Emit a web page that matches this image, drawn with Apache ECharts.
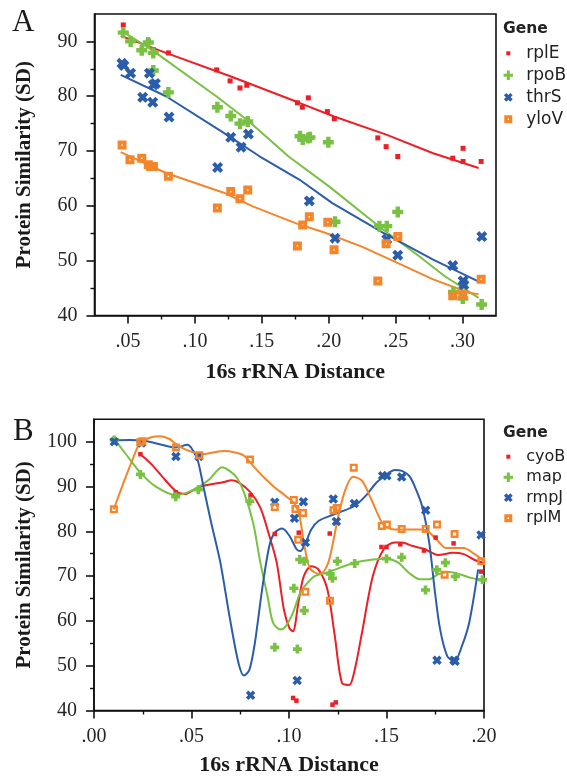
<!DOCTYPE html>
<html>
<head>
<meta charset="utf-8">
<script src="https://cdn.jsdelivr.net/npm/echarts@6/dist/echarts.min.js"></script>
<style>html,body{margin:0;padding:0;background:#fff}#c{width:567px;height:777px}</style>
</head>
<body>
<div id="c"></div>
<script>
// ---------- Panel A data ----------
const genesA = ['rplE', 'rpoB', 'thrS', 'yloV'];
const rplE = [[0.0465,93.0],[0.0652,90.0],[0.0689,88.5],[0.0802,87.9],[0.1163,84.8],[0.1263,82.8],[0.1337,81.5],[0.1388,82.0],[0.1766,78.8],[0.1803,78.0],[0.1848,79.7],[0.199,77.2],[0.2042,75.9],[0.2367,72.4],[0.2429,70.8],[0.2516,69.0],[0.2927,68.7],[0.3004,70.5],[0.3004,68.1],[0.3139,68.1]];
const rplEFit = [[0.0446,91.0],[0.0784,87.9],[0.127,83.6],[0.178,78.8],[0.204,76.3],[0.243,73.0],[0.278,69.6],[0.312,66.9]];
const rpoB = [[0.0465,91.6],[0.052,90.0],[0.0603,88.4],[0.0652,89.8],[0.0689,87.9],[0.0689,84.7],[0.0802,80.7],[0.1168,78.0],[0.1268,76.4],[0.1337,75.0],[0.1395,75.4],[0.1786,72.7],[0.1806,72.1],[0.1848,72.4],[0.186,72.5],[0.1997,71.6],[0.2047,57.1],[0.2379,56.3],[0.2434,56.3],[0.2516,58.9],[0.2932,44.3],[0.3002,43.1],[0.3143,42.0]];
const rpoBFit = [[0.0446,92.0],[0.0676,88.5],[0.116,80.0],[0.1405,75.4],[0.170,69.0],[0.200,63.6],[0.2405,55.7],[0.2676,50.8],[0.2865,47.2],[0.312,43.2]];
const thrS = [[0.0455,86.0],[0.047,85.6],[0.052,84.2],[0.061,79.8],[0.066,84.2],[0.069,82.1],[0.0705,82.3],[0.0685,78.9],[0.0807,76.2],[0.117,67.0],[0.1268,72.5],[0.1345,70.7],[0.14,73.1],[0.1855,60.9],[0.2047,54.1],[0.2434,53.9],[0.2516,51.0],[0.2927,49.1],[0.3004,46.3],[0.301,45.6],[0.3144,54.4]];
const thrSFit = [[0.0446,83.9],[0.0784,80.0],[0.1216,73.3],[0.1486,69.0],[0.178,64.8],[0.2027,60.5],[0.2405,55.1],[0.278,50.2],[0.311,46.3]];
const yloV = [[0.0456,71.1],[0.0515,68.4],[0.0603,68.7],[0.0652,67.5],[0.067,67.2],[0.069,67.2],[0.0802,65.4],[0.1168,59.6],[0.1268,62.6],[0.1337,61.3],[0.1395,62.9],[0.1766,52.7],[0.1806,56.5],[0.1855,58.0],[0.1993,57.0],[0.204,52.0],[0.2367,46.3],[0.2429,53.1],[0.2516,54.4],[0.2927,43.6],[0.3002,43.8],[0.3139,46.6]];
const yloVFit = [[0.0446,69.8],[0.0784,66.0],[0.1216,62.4],[0.1432,59.9],[0.1757,56.8],[0.1973,55.1],[0.2243,52.6],[0.2514,49.6],[0.278,46.6],[0.3054,44.1],[0.312,43.9]];
const xTicksA = [0.05, 0.10, 0.15, 0.20, 0.25, 0.30];
const xMinorA = [0.075, 0.125, 0.175, 0.225, 0.275];
const yTicksA = [40, 50, 60, 70, 80, 90];
const yMinorA = [45, 55, 65, 75, 85];

// ---------- Panel B data ----------
const genesB = ['cyoB', 'map', 'rmpJ', 'rplM'];
const cyoB = [[0.0238,97.2],[0.0419,88.7],[0.0803,88.0],[0.0927,79.4],[0.105,79.7],[0.1021,42.8],[0.1038,42.2],[0.1209,79.5],[0.1223,41.3],[0.124,41.8],[0.1474,76.5],[0.15,76.5],[0.1571,77.1],[0.1692,75.7],[0.1752,78.6],[0.1844,77.3],[0.1986,71.0]];
const cyoBFit = [[0.0238,97.2],[0.0294,95.0],[0.035,92.2],[0.0419,89.0],[0.0462,88.3],[0.0518,89.4],[0.0555,90.1],[0.0667,91.0],[0.0704,91.4],[0.0741,90.9],[0.0803,88.7],[0.0853,85.3],[0.0899,79.0],[0.0937,73.0],[0.0974,62.5],[0.1002,58.4],[0.102,57.7],[0.1048,64.0],[0.1076,70.0],[0.1114,72.2],[0.1151,71.5],[0.1197,67.0],[0.1235,56.6],[0.1272,46.1],[0.1309,45.7],[0.1337,49.1],[0.1374,57.3],[0.143,70.0],[0.1486,76.0],[0.1542,77.5],[0.1579,77.5],[0.1635,76.7],[0.1691,76.1],[0.1765,74.7],[0.184,75.2],[0.1896,74.9],[0.1952,73.6],[0.1994,73.0]];
const mapG = [[0.0104,100.4],[0.0238,92.7],[0.0419,87.7],[0.0535,89.3],[0.0799,86.7],[0.0927,54.1],[0.1043,53.7],[0.1025,67.3],[0.1055,73.7],[0.1078,73.3],[0.1078,62.3],[0.1211,70.5],[0.1223,69.5],[0.1248,73.3],[0.1337,72.8],[0.15,73.9],[0.1578,74.2],[0.17,66.9],[0.1758,71.4],[0.1802,73.0],[0.1853,69.9],[0.1992,69.2]];
const mapFit = [[0.0104,100.6],[0.0164,97.2],[0.0238,93.1],[0.0313,90.1],[0.0419,88.1],[0.048,88.7],[0.0533,89.8],[0.0592,91.6],[0.0657,94.3],[0.0695,93.5],[0.0732,92.0],[0.0769,88.7],[0.0816,81.9],[0.0853,73.0],[0.089,65.5],[0.0918,59.6],[0.0955,58.1],[0.0983,58.8],[0.102,61.8],[0.1058,66.3],[0.1095,68.5],[0.1132,70.0],[0.1188,70.7],[0.1263,71.9],[0.1337,73.0],[0.143,73.7],[0.1501,73.9],[0.156,73.0],[0.1616,70.7],[0.1672,69.3],[0.1719,69.3],[0.1765,70.4],[0.1821,70.9],[0.1877,70.4],[0.1933,69.6],[0.1998,69.1]];
const rmpJ = [[0.0104,100.0],[0.0244,99.7],[0.042,96.7],[0.0538,96.7],[0.0803,43.4],[0.0927,86.5],[0.1028,82.9],[0.1042,46.7],[0.1074,86.6],[0.1084,77.5],[0.1227,87.2],[0.1243,82.2],[0.1335,86.2],[0.148,92.4],[0.1502,92.4],[0.1578,92.1],[0.1701,84.7],[0.1759,51.2],[0.1846,51.2],[0.1852,51.0],[0.1985,79.2]];
const rmpJFit = [[0.0104,100.3],[0.0182,100.4],[0.0257,100.2],[0.0331,99.5],[0.0419,98.7],[0.048,99.3],[0.0508,98.0],[0.0533,95.7],[0.0564,89.4],[0.0601,81.9],[0.0648,73.0],[0.0695,61.0],[0.0741,50.6],[0.0769,47.8],[0.0797,49.1],[0.0825,55.1],[0.0862,67.0],[0.0899,76.7],[0.0927,79.7],[0.0965,80.6],[0.1002,79.0],[0.1039,76.0],[0.1058,75.6],[0.1086,77.5],[0.1114,80.4],[0.1151,82.3],[0.1207,83.4],[0.1263,84.3],[0.1337,85.7],[0.1393,87.9],[0.1449,90.9],[0.1505,92.8],[0.1542,93.7],[0.1579,93.5],[0.1616,92.4],[0.1644,90.1],[0.1682,85.7],[0.1719,77.5],[0.1747,67.0],[0.1775,58.1],[0.1812,52.1],[0.1849,51.0],[0.1886,54.3],[0.1924,59.6],[0.197,71.5]];
const rplM = [[0.0102,84.9],[0.0237,99.9],[0.0248,100.1],[0.042,98.7],[0.054,97.0],[0.08,96.0],[0.0927,85.4],[0.1025,87.0],[0.1033,85.0],[0.1072,84.1],[0.1047,78.1],[0.1084,66.5],[0.121,64.5],[0.1228,84.7],[0.1245,85.2],[0.1332,94.2],[0.1476,81.2],[0.1502,81.5],[0.1578,80.5],[0.1701,80.5],[0.1759,81.5],[0.1798,70.3],[0.1849,79.4],[0.1986,73.3]];
const rplMFit = [[0.0101,84.9],[0.0145,90.1],[0.0192,95.4],[0.0238,99.85],[0.0294,101.0],[0.0341,101.2],[0.0387,100.6],[0.0419,99.5],[0.0462,98.4],[0.0518,97.5],[0.0555,97.2],[0.0611,97.6],[0.0667,97.9],[0.0723,97.6],[0.0769,96.9],[0.0816,94.6],[0.0872,92.0],[0.0927,89.8],[0.0983,87.9],[0.103,86.0],[0.1054,83.4],[0.1076,77.5],[0.1104,72.0],[0.1132,70.8],[0.116,70.5],[0.1197,72.5],[0.1222,76.7],[0.1253,83.4],[0.129,89.4],[0.1328,92.2],[0.1374,91.3],[0.1421,87.2],[0.1477,81.9],[0.1505,80.8],[0.1542,80.4],[0.1616,80.4],[0.1672,80.4],[0.1709,80.1],[0.1765,77.8],[0.1803,76.3],[0.1858,76.3],[0.1896,76.3],[0.1952,74.9],[0.1998,73.4]];
const xTicksB = [0, 0.05, 0.10, 0.15, 0.20];
const xMinorB = [0.025, 0.075, 0.125, 0.175];
const yTicksB = [40, 50, 60, 70, 80, 90, 100];
const yMinorB = [45, 55, 65, 75, 85, 95];

// ---------- styles ----------
const RED = '#ec1f26', GREEN = '#79c143', BLUE = '#2b5dab', ORANGE = '#f5852a';
const PLUS = 'path://M3,0 H7 V3 H10 V7 H7 V10 H3 V7 H0 V3 H3 Z';
const CROSS = 'path://M0,2.6 L2.6,0 L5,2.4 L7.4,0 L10,2.6 L7.6,5 L10,7.4 L7.4,10 L5,7.6 L2.6,10 L0,7.4 L2.4,5 Z';
const SQDOT = 'path://M0,0 H10 V10 H0 Z M4.2,4.2 V5.8 H5.8 V4.2 Z';
const SQHOLE = 'path://M0,0 H10 V10 H0 Z M3,3 V7 H7 V3 Z';
// legend icons: 18x10 box, shape centred at x=5
const L_SMALL = 'path://M0,0 M18,10 M3,3 H7 V7 H3 Z';
const L_PLUS = 'path://M0,0 M18,10 M3.5,0.3 H6.5 V3.5 H9.7 V6.5 H6.5 V9.7 H3.5 V6.5 H0.3 V3.5 H3.5 Z';
const L_CROSS = 'path://M0,0 M18,10 M0.6,3 L3,0.6 L5,2.6 L7,0.6 L9.4,3 L7.4,5 L9.4,7 L7,9.4 L5,7.4 L3,9.4 L0.6,7 L2.6,5 Z';
const L_SQDOT = 'path://M0,0 M18,10 M1,1 H9 V9 H1 Z M4.3,4.3 V5.7 H5.7 V4.3 Z';

const SERIF = 'Liberation Serif';
const SANS = 'DejaVu Sans';
const fmtX = v => v.toFixed(2).replace(/^0/, '');

function mainAxis(type, gridIndex, min, max, ticks, name, nameGap) {
  return {
    type: 'value', gridIndex, min, max,
    position: type === 'x' ? 'bottom' : 'left',
    name, nameLocation: 'middle', nameGap,
    nameRotate: type === 'x' ? 0 : 90,
    nameTextStyle: {fontFamily: SERIF, fontWeight: 'bold', fontSize: type === 'x' ? 22 : 21, color: '#1a1a1a'},
    axisLine: {show: true, onZero: false, lineStyle: {color: '#111', width: 1.6}},
    axisTick: {show: true, inside: false, length: 8, customValues: ticks, lineStyle: {color: '#111', width: 1.6}},
    axisLabel: {show: true, customValues: ticks, margin: type === 'x' ? 16 : 17,
      fontFamily: SERIF, fontSize: 20, color: '#262626',
      formatter: type === 'x' ? fmtX : (v => String(v))},
    splitLine: {show: false}, minorTick: {show: false}, minorSplitLine: {show: false}
  };
}
function minorAxis(type, gridIndex, min, max, ticks) {
  return {
    type: 'value', gridIndex, min, max,
    position: type === 'x' ? 'bottom' : 'left',
    axisLine: {show: false, onZero: false},
    axisTick: {show: true, inside: false, length: 4, customValues: ticks, lineStyle: {color: '#111', width: 1.4}},
    axisLabel: {show: false},
    splitLine: {show: false}
  };
}

function scatter(name, data, ax, symbol, size, color) {
  return {type: 'scatter', name, data, xAxisIndex: ax, yAxisIndex: ax, symbol, symbolSize: size,
    itemStyle: {color, opacity: 1}, z: 4, emphasis: {disabled: true}};
}
function fit(name, data, ax, color, smooth) {
  return {type: 'line', name, data, xAxisIndex: ax, yAxisIndex: ax, showSymbol: false, symbol: 'none',
    smooth, lineStyle: {color, width: 2}, itemStyle: {color}, z: 3, emphasis: {disabled: true}};
}

const legendText = size => ({fontFamily: SANS, fontSize: size, color: '#222', lineHeight: size});

const option = {
  animation: false,
  backgroundColor: '#ffffff',
  title: [
    {text: 'A', left: 12, top: 7, padding: 0, textStyle: {fontFamily: SERIF, fontWeight: 'normal', fontSize: 31, color: '#1a1a1a'}},
    {text: 'Gene', left: 503, top: 21, padding: 0, textStyle: {fontFamily: SANS, fontWeight: 'bold', fontSize: 15.5, color: '#222'}},
    {text: 'B', left: 13, top: 416, padding: 0, textStyle: {fontFamily: SERIF, fontWeight: 'normal', fontSize: 31, color: '#1a1a1a'}},
    {text: 'Gene', left: 503, top: 425, padding: 0, textStyle: {fontFamily: SANS, fontWeight: 'bold', fontSize: 15.5, color: '#222'}}
  ],
  legend: [
    {orient: 'vertical', left: 503.3, top: 44.8, padding: 0, itemGap: 5, itemWidth: 18, itemHeight: 10,
     selectedMode: false, textStyle: legendText(17),
     data: [{name: genesA[0], icon: L_SMALL}, {name: genesA[1], icon: L_PLUS}, {name: genesA[2], icon: L_CROSS}, {name: genesA[3], icon: L_SQDOT}]},
    {orient: 'vertical', left: 503.3, top: 448.7, padding: 0, itemGap: 4.5, itemWidth: 18, itemHeight: 10,
     selectedMode: false, textStyle: legendText(16),
     data: [{name: genesB[0], icon: L_SMALL}, {name: genesB[1], icon: L_PLUS}, {name: genesB[2], icon: L_CROSS}, {name: genesB[3], icon: L_SQDOT}]}
  ],
  grid: [
    {left: 94.5, top: 14, width: 401.5, height: 301.5, show: true, borderColor: '#111', borderWidth: 1.6, backgroundColor: 'transparent', containLabel: false},
    {left: 94, top: 419.3, width: 390, height: 291.4, show: true, borderColor: '#111', borderWidth: 1.6, backgroundColor: 'transparent', containLabel: false}
  ],
  xAxis: [
    mainAxis('x', 0, 0.025, 0.325, xTicksA, '16s rRNA Distance', 45.5),
    minorAxis('x', 0, 0.025, 0.325, xMinorA),
    mainAxis('x', 1, 0, 0.2, xTicksB, '16s rRNA Distance', 43.5),
    minorAxis('x', 1, 0, 0.2, xMinorB)
  ],
  yAxis: [
    mainAxis('y', 0, 40, 95, yTicksA, 'Protein Similarity (SD)', 59),
    minorAxis('y', 0, 40, 95, yMinorA),
    mainAxis('y', 1, 40, 105, yTicksB, 'Protein Similarity (SD)', 59),
    minorAxis('y', 1, 40, 105, yMinorB)
  ],
  series: [
    fit(genesA[0], rplEFit, 0, RED, false),
    fit(genesA[1], rpoBFit, 0, GREEN, false),
    fit(genesA[2], thrSFit, 0, BLUE, false),
    fit(genesA[3], yloVFit, 0, ORANGE, false),
    scatter(genesA[0], rplE, 0, 'rect', 5, RED),
    scatter(genesA[1], rpoB, 0, PLUS, 11, GREEN),
    scatter(genesA[2], thrS, 0, CROSS, 11, BLUE),
    scatter(genesA[3], yloV, 0, SQDOT, 9, ORANGE),

    fit(genesB[0], cyoBFit, 2, RED, 0.3),
    fit(genesB[1], mapFit, 2, GREEN, 0.3),
    fit(genesB[2], rmpJFit, 2, BLUE, 0.3),
    fit(genesB[3], rplMFit, 2, ORANGE, 0.3),
    scatter(genesB[0], cyoB, 2, 'rect', 4.5, RED),
    scatter(genesB[1], mapG, 2, PLUS, 9, GREEN),
    scatter(genesB[2], rmpJ, 2, CROSS, 9.5, BLUE),
    scatter(genesB[3], rplM, 2, SQHOLE, 8, ORANGE)
  ]
};

const chart = echarts.init(document.getElementById('c'), null, {renderer: 'canvas', width: 567, height: 777});
chart.setOption(option);
</script>
</body>
</html>
